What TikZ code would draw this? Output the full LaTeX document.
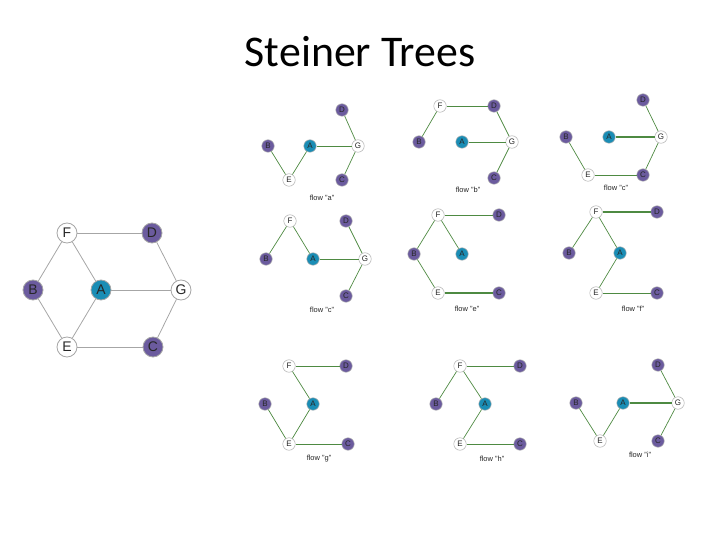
\documentclass[tikz,border=0pt]{standalone}
\usepackage{fontspec}
\setmainfont{Liberation Sans}
\newfontfamily\titlefont{Carlito}
\definecolor{pur}{HTML}{6B5B9E}
\definecolor{tea}{HTML}{1A8DB5}
\definecolor{grn}{HTML}{4E8A42}
\begin{document}
\begin{tikzpicture}[x=1bp,y=-1bp,
  big/.style={circle,draw=gray!70,line width=0.8bp,minimum size=20bp,inner sep=0,font=\fontsize{14}{14}\selectfont,text=black!85},
  bp/.style={big,fill=pur},bt/.style={big,fill=tea},bw/.style={big,fill=white},
  sm/.style={circle,draw=gray!60,line width=0.5bp,minimum size=12.5bp,inner sep=0,font=\fontsize{8}{8}\selectfont,text=black!85},
  sp/.style={sm,fill=pur},st/.style={sm,fill=tea},sw/.style={sm,fill=white},
  bedge/.style={draw=gray!70,line width=0.8bp},
  ge/.style={draw=grn,line width=0.7bp},
  gt/.style={draw=grn,line width=1.6bp},
  lab/.style={font=\fontsize{7.5}{7.5}\selectfont,text=black!85}]
\useasboundingbox (0,0) rectangle (720,540);
\node[font=\titlefont\fontsize{44}{44}\selectfont] (title) at (360,52) {Steiner Trees};
% big graph
\node[bw] (F) at (67,233) {F};
\node[bp] (D) at (152,233) {D};
\node[bp] (B) at (33,290) {B};
\node[bt] (A) at (101,290) {A};
\node[bw] (G) at (181,290) {G};
\node[bw] (E) at (67,347) {E};
\node[bp] (C) at (153,347) {C};
\foreach \a/\b in {F/D,F/B,F/A,A/G,D/G,B/E,E/A,E/C,C/G} \draw[bedge] (\a)--(\b);
% panel a
\node[sp] (aD) at (342,110) {D};
\node[sp] (aB) at (268,146) {B};
\node[st] (aA) at (310,146) {A};
\node[sw] (aG) at (358,146) {G};
\node[sw] (aE) at (289,180) {E};
\node[sp] (aC) at (342,180) {C};
\foreach \a/\b in {aB/aE,aE/aA,aA/aG,aG/aD,aG/aC} \draw[ge] (\a)--(\b);
\node[lab] (la) at (322,198) {flow "a"};
% panel b
\node[sw] (bF) at (440,106) {F};
\node[sp] (bD) at (494,106) {D};
\node[sp] (bB) at (419,142) {B};
\node[st] (bA) at (462,142) {A};
\node[sw] (bG) at (512,142) {G};
\node[sp] (bC) at (494,178) {C};
\foreach \a/\b in {bF/bD,bF/bB,bA/bG,bD/bG,bG/bC} \draw[ge] (\a)--(\b);
\node[lab] (lb) at (468,190) {flow "b"};
% panel c (top right)
\node[sp] (cD) at (643,100) {D};
\node[sp] (cB) at (566,137) {B};
\node[st] (cA) at (609,137) {A};
\node[sw] (cG) at (661,137) {G};
\node[sw] (cE) at (588,175) {E};
\node[sp] (cC) at (643,175) {C};
\foreach \a/\b in {cD/cG,cB/cE,cE/cC,cC/cG} \draw[ge] (\a)--(\b);
\draw[gt] (cA)--(cG);
\node[lab] (lc) at (616,188) {flow "c"};
% panel c2
\node[sw] (dF) at (290,221) {F};
\node[sp] (dD) at (346,221) {D};
\node[sp] (dB) at (266,259) {B};
\node[st] (dA) at (313,259) {A};
\node[sw] (dG) at (365,259) {G};
\node[sp] (dC) at (346,296) {C};
\foreach \a/\b in {dF/dB,dF/dA,dA/dG,dD/dG,dG/dC} \draw[ge] (\a)--(\b);
\node[lab] (ld) at (322,310) {flow "c"};
% panel e
\node[sw] (eF) at (438,215) {F};
\node[sp] (eD) at (499,215) {D};
\node[sp] (eB) at (414,254) {B};
\node[st] (eA) at (462,254) {A};
\node[sw] (eE) at (438,293) {E};
\node[sp] (eC) at (499,293) {C};
\foreach \a/\b in {eF/eD,eF/eA,eF/eB,eB/eE} \draw[ge] (\a)--(\b);
\draw[gt] (eE)--(eC);
\node[lab] (le) at (467,309) {flow "e"};
% panel f
\node[sw] (fF) at (596,212) {F};
\node[sp] (fD) at (657,212) {D};
\node[sp] (fB) at (569,253) {B};
\node[st] (fA) at (620,253) {A};
\node[sw] (fE) at (596,293) {E};
\node[sp] (fC) at (657,293) {C};
\foreach \a/\b in {fF/fB,fF/fA,fA/fE,fE/fC} \draw[ge] (\a)--(\b);
\draw[gt] (fF)--(fD);
\node[lab] (lf) at (633,309) {flow "f"};
% panel g
\node[sw] (gF) at (289,366) {F};
\node[sp] (gD) at (346,366) {D};
\node[sp] (gB) at (265,404) {B};
\node[st] (gA) at (313,404) {A};
\node[sw] (gE) at (289,444) {E};
\node[sp] (gC) at (348,444) {C};
\foreach \a/\b in {gF/gD,gF/gA,gA/gE,gB/gE,gE/gC} \draw[ge] (\a)--(\b);
\node[lab] (lg) at (319,459) {flow "g"};
% panel h
\node[sw] (hF) at (460,366) {F};
\node[sp] (hD) at (520,366) {D};
\node[sp] (hB) at (436,404) {B};
\node[st] (hA) at (485,404) {A};
\node[sw] (hE) at (460,444) {E};
\node[sp] (hC) at (520,444) {C};
\foreach \a/\b in {hF/hD,hF/hB,hF/hA,hA/hE,hE/hC} \draw[ge] (\a)--(\b);
\node[lab] (lh) at (492,459) {flow "h"};
% panel i
\node[sp] (iD) at (658,365) {D};
\node[sp] (iB) at (576,403) {B};
\node[st] (iA) at (623,403) {A};
\node[sw] (iG) at (678,403) {G};
\node[sw] (iE) at (600,441) {E};
\node[sp] (iC) at (658,441) {C};
\foreach \a/\b in {iD/iG,iB/iE,iE/iA,iG/iC} \draw[ge] (\a)--(\b);
\draw[gt] (iA)--(iG);
\node[lab] (li) at (640,455) {flow "i"};
\end{tikzpicture}
\end{document}
